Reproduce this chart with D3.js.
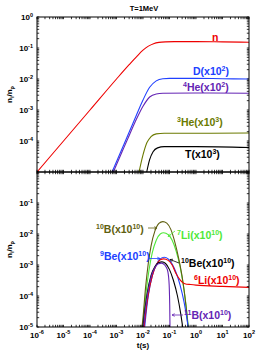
<!DOCTYPE html>
<html lang="en">
<head>
<meta charset="UTF-8">
<title>BBN abundances T=1MeV</title>
<script src="https://d3js.org/d3.v7.min.js"></script>
<style>
  body { margin: 0; background: #fff; }
  text { font-family: "Liberation Sans", Arial, sans-serif; font-weight: bold; }
</style>
</head>
<body>
<svg width="258" height="352"></svg>
<script>
// tick exponents
const xTickExp = [-6, -5, -4, -3, -2, -1, 0, 1, 2];
const yTickExpTop = [0, -1, -2, -3, -4];
const yTickExpBot = [-1, -2, -3, -4, -5];

// top panel series: [t (s), n_i/n_p]
const nNeutron = [[1e-6,1e-5],[1e-5,1e-4],[1e-4,1e-3],[1e-3,1e-2],[3e-3,2.9e-2],[6e-3,5.5e-2],[1e-2,8.5e-2],[1.6e-2,0.115],[2.5e-2,0.138],[4e-2,0.152],[7e-2,0.158],[0.15,0.16],[1,0.16],[10,0.158],[100,0.153]];
const nD = [[6.8e-4,1e-5],[1.78e-3,6.8e-5],[3.16e-3,2.14e-4],[5.62e-3,6.8e-4],[1e-2,2.1e-3],[1.78e-2,5.4e-3],[3.16e-2,8.7e-3],[5.62e-2,1.02e-2],[0.1,1.05e-2],[1,1.05e-2],[10,1.02e-2],[100,1.0e-2]];
const nHe4 = [[7.6e-4,1e-5],[1.78e-3,5.4e-5],[3.16e-3,1.66e-4],[5.62e-3,5e-4],[1e-2,1.32e-3],[1.78e-2,2.63e-3],[3.16e-2,3.3e-3],[5.62e-2,3.47e-3],[1,3.55e-3],[100,3.47e-3]];
const nHe3 = [[7.1e-3,1e-5],[1e-2,3.55e-5],[1.41e-2,8.9e-5],[2e-2,1.38e-4],[3.16e-2,1.7e-4],[6.3e-2,1.78e-4],[1,1.78e-4],[100,1.82e-4]];
const nT = [[1.38e-2,1e-5],[1.78e-2,2.5e-5],[2.4e-2,4.5e-5],[3.55e-2,6e-5],[6.3e-2,6.6e-5],[1,6.6e-5],[100,6.2e-5]];

// bottom panel series
const nB10 = [[7.9e-3,3.2e-6],[1e-2,2e-5],[1.26e-2,2e-4],[1.58e-2,1.12e-3],[2e-2,4e-3],[2.82e-2,1.26e-2],[3.98e-2,2.19e-2],[5.62e-2,2.51e-2],[7.9e-2,2.24e-2],[0.112,1.41e-2],[0.158,5.6e-3],[0.224,1.58e-3],[0.316,3.16e-4],[0.417,5e-5],[0.525,6.3e-6]];
const nLi7 = [[8.3e-3,3.2e-6],[1.05e-2,2e-5],[1.32e-2,1.41e-4],[1.66e-2,6.3e-4],[2.24e-2,2.5e-3],[3.16e-2,6.3e-3],[4.47e-2,1e-2],[6e-2,1.1e-2],[8.9e-2,9.5e-3],[0.126,6.3e-3],[0.178,2.82e-3],[0.251,8.9e-4],[0.339,2e-4],[0.447,3.16e-5],[0.562,5e-6]];
const nBe9 = [[1e-2,2.5e-6],[1.26e-2,2e-5],[1.58e-2,1e-4],[2.24e-2,4.5e-4],[3.16e-2,1e-3],[4.47e-2,1.58e-3],[6.3e-2,1.78e-3],[8.9e-2,1.58e-3],[0.126,1.07e-3],[0.178,5.6e-4],[0.251,2.24e-4],[0.355,6.3e-5],[0.468,1.58e-5],[0.603,3.2e-6]];
const nLi6 = [[9.5e-3,2.5e-6],[1.2e-2,2e-5],[1.58e-2,1.12e-4],[2.24e-2,4.5e-4],[3.16e-2,1e-3],[4.47e-2,1.48e-3],[6e-2,1.58e-3],[8.9e-2,1.41e-3],[0.126,1e-3],[0.178,5.2e-4],[0.251,3.3e-4],[0.316,2.7e-4],[0.38,2.5e-4],[0.631,2.34e-4],[1,2.24e-4],[10,2.04e-4],[100,1.9e-4]];
const nBe10 = [[8.9e-3,3.2e-6],[1.12e-2,2.5e-5],[1.41e-2,1.12e-4],[2e-2,4.5e-4],[2.82e-2,8.9e-4],[3.98e-2,1.2e-3],[5.2e-2,1.26e-3],[7.1e-2,1.12e-3],[0.1,7.1e-4],[0.141,3.16e-4],[0.2,1e-4],[0.263,2.8e-5],[0.339,6.3e-6]];
const nB11 = [[9.3e-3,3.2e-6],[1.17e-2,2.5e-5],[1.48e-2,1.12e-4],[2e-2,4e-4],[2.82e-2,8.3e-4],[3.8e-2,1.1e-3],[5e-2,1.15e-3],[6.6e-2,1e-3],[8.3e-2,7.1e-4],[9.5e-2,3.16e-4],[0.102,5e-5],[0.106,3.2e-6]];

const svg = d3.select("svg");
const left = 37, right = 249;
const panels = [
    { top: 17, bottom: 172, ticks: yTickExpTop, id: "p1" },
    { top: 172, bottom: 327, ticks: yTickExpBot, id: "p2" }
];

const x = d3.scaleLog().domain([1e-6, 1e2]).range([left, right]);
panels.forEach(p => {
    p.y = d3.scaleLog().domain([1e-5, 1]).range([p.bottom, p.top]);
});

svg.append("rect").attr("width", 258).attr("height", 352).attr("fill", "#fff");

// superscript / subscript text helper
function rich(sel, parts, size, small) {
    let shift = 0;
    parts.forEach(([k, s]) => {
        const target = k === "sup" ? -size * 0.4 : k === "sub" ? size * 0.3 : 0;
        sel.append("tspan")
            .attr("dy", target - shift)
            .attr("font-size", k ? small : size)
            .text(s);
        shift = target;
    });
    return sel;
}

const defs = svg.append("defs");
panels.forEach(p => {
    defs.append("clipPath").attr("id", "clip-" + p.id)
        .append("rect")
        .attr("x", left).attr("y", p.top)
        .attr("width", right - left).attr("height", p.bottom - p.top);
});

const line = y => d3.line()
    .x(d => x(d[0]))
    .y(d => y(d[1]))
    .curve(d3.curveMonotoneX);

function drawSeries(p, data, color) {
    svg.append("path")
        .datum(data)
        .attr("clip-path", `url(#clip-${p.id})`)
        .attr("fill", "none")
        .attr("stroke", color)
        .attr("stroke-width", 1.1)
        .attr("d", line(p.y));
}

const cRed = "#ee0000", cBlue = "#2040ff", cPurple = "#6424b4",
      cOlive = "#6b7a00", cOliveDark = "#5f5f10", cGreen = "#4fe838", cBlack = "#000";

// top panel curves
drawSeries(panels[0], nNeutron, cRed);
drawSeries(panels[0], nD, cBlue);
drawSeries(panels[0], nHe4, cPurple);
drawSeries(panels[0], nHe3, cOlive);
drawSeries(panels[0], nT, cBlack);

// bottom panel curves
drawSeries(panels[1], nLi7, cGreen);
drawSeries(panels[1], nB10, cOliveDark);
drawSeries(panels[1], nBe9, cBlue);
drawSeries(panels[1], nLi6, cRed);
drawSeries(panels[1], nBe10, cBlack);
drawSeries(panels[1], nB11, cPurple);

// axes: frame + inward ticks on all sides
const tickLen = 2.2;
panels.forEach((p, pi) => {
    const g = svg.append("g").attr("stroke", "#000").attr("stroke-width", 0.8);
    // x ticks (major + minor)
    for (let e = -6; e <= 2; e++) {
        const mult = e < 2 ? [1,2,3,4,5,6,7,8,9] : [1];
        mult.forEach(m => {
            const xv = x(m * Math.pow(10, e));
            g.append("line").attr("x1", xv).attr("x2", xv).attr("y1", p.bottom).attr("y2", p.bottom - tickLen);
            g.append("line").attr("x1", xv).attr("x2", xv).attr("y1", p.top).attr("y2", p.top + tickLen);
        });
    }
    // y ticks
    for (let e = -5; e <= 0; e++) {
        const mult = e < 0 ? [1,2,3,4,5,6,7,8,9] : [1];
        mult.forEach(m => {
            const yv = p.y(m * Math.pow(10, e));
            g.append("line").attr("x1", left).attr("x2", left + tickLen).attr("y1", yv).attr("y2", yv);
            g.append("line").attr("x1", right).attr("x2", right - tickLen).attr("y1", yv).attr("y2", yv);
        });
    }
    svg.append("rect")
        .attr("x", left).attr("y", p.top)
        .attr("width", right - left).attr("height", p.bottom - p.top)
        .attr("fill", "none").attr("stroke", "#000").attr("stroke-width", 1);

    // y tick labels
    p.ticks.forEach(e => {
        const t = svg.append("text")
            .attr("x", left - 4).attr("y", p.y(Math.pow(10, e)) + 3)
            .attr("text-anchor", "end");
        rich(t, [["", "10"], ["sup", String(e)]], 8, 5.5);
    });

    // y axis title
    const yl = svg.append("text")
        .attr("transform", `translate(12,${(p.top + p.bottom) / 2}) rotate(-90)`)
        .attr("text-anchor", "middle");
    rich(yl, [["", "n"], ["sub", "i"], ["", "/n"], ["sub", "p"]], 8, 5.5);
});

// x tick labels (bottom panel only)
xTickExp.forEach(e => {
    const t = svg.append("text")
        .attr("x", x(Math.pow(10, e))).attr("y", 337.5)
        .attr("text-anchor", "middle");
    rich(t, [["", "10"], ["sup", String(e)]], 8, 5.5);
});

svg.append("text").attr("x", 143).attr("y", 347.5)
    .attr("text-anchor", "middle").attr("font-size", 8).text("t(s)");

svg.append("text").attr("x", 144).attr("y", 11)
    .attr("text-anchor", "middle").attr("font-size", 7.5).text("T=1MeV");

// curve labels
const labels = [
    { parts: [["", "n"]], x: 212, y: 41, c: cRed },
    { parts: [["", "D(x10"], ["sup", "2"], ["", ")"]], x: 193, y: 75, c: cBlue },
    { parts: [["sup", "4"], ["", "He(x10"], ["sup", "2"], ["", ")"]], x: 183, y: 91, c: cPurple },
    { parts: [["sup", "3"], ["", "He(x10"], ["sup", "3"], ["", ")"]], x: 177, y: 126, c: cOlive },
    { parts: [["", "T(x10"], ["sup", "3"], ["", ")"]], x: 185, y: 158, c: cBlack },
    { parts: [["sup", "10"], ["", "B(x10"], ["sup", "10"], ["", ")"]], x: 96, y: 233, c: cOliveDark },
    { parts: [["sup", "7"], ["", "Li(x10"], ["sup", "10"], ["", ")"]], x: 177, y: 239, c: cGreen },
    { parts: [["sup", "9"], ["", "Be(x10"], ["sup", "10"], ["", ")"]], x: 100, y: 260, c: cBlue },
    { parts: [["sup", "10"], ["", "Be(x10"], ["sup", "10"], ["", ")"]], x: 181, y: 267, c: cBlack },
    { parts: [["sup", "6"], ["", "Li(x10"], ["sup", "10"], ["", ")"]], x: 194, y: 284, c: cRed },
    { parts: [["sup", "11"], ["", "B(x10"], ["sup", "10"], ["", ")"]], x: 184, y: 319, c: cPurple }
];
labels.forEach(l => {
    const t = svg.append("text").attr("x", l.x).attr("y", l.y).attr("fill", l.c);
    rich(t, l.parts, 10.5, 7);
});

// annotation arrows
const arrows = [
    { x1: 148, y1: 228, x2: 157, y2: 228, c: cOliveDark },
    { x1: 175, y1: 231, x2: 168, y2: 236.5, c: cGreen },
    { x1: 149, y1: 258.5, x2: 160, y2: 258.5, c: cBlue },
    { x1: 179, y1: 263, x2: 170, y2: 259.5, c: cBlack },
    { x1: 183, y1: 315, x2: 172, y2: 315, c: cPurple }
];
arrows.forEach(a => {
    const ang = Math.atan2(a.y2 - a.y1, a.x2 - a.x1);
    const h = 3, w = 0.45;
    svg.append("line")
        .attr("x1", a.x1).attr("y1", a.y1).attr("x2", a.x2).attr("y2", a.y2)
        .attr("stroke", a.c).attr("stroke-width", 0.8);
    svg.append("path")
        .attr("d", `M${a.x2 - h * Math.cos(ang - w)},${a.y2 - h * Math.sin(ang - w)}L${a.x2},${a.y2}L${a.x2 - h * Math.cos(ang + w)},${a.y2 - h * Math.sin(ang + w)}`)
        .attr("fill", "none").attr("stroke", a.c).attr("stroke-width", 0.8);
});
</script>
</body>
</html>
